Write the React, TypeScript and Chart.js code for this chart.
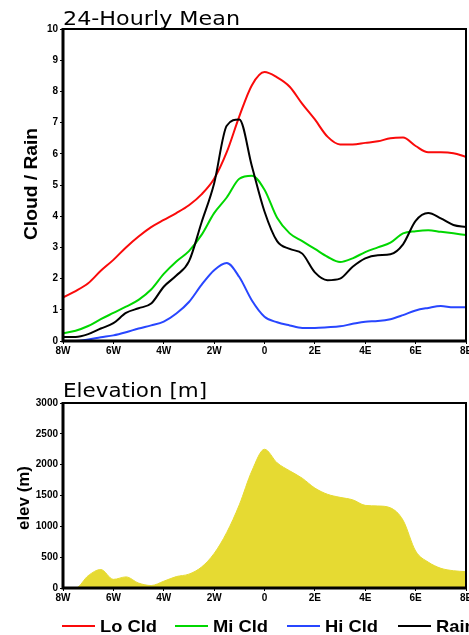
import React, { useEffect, useRef } from 'react';
import { Chart, registerables } from 'chart.js';
Chart.register(...registerables);

const xPositions = [-8, -7.5, -7, -6.5, -6, -5.5, -5, -4.5, -4, -3.5, -3, -2.5, -2, -1.5, -1, -0.5, 0, 0.5, 1, 1.5, 2, 2.5, 3, 3.5, 4, 4.5, 5, 5.5, 6, 6.5, 7, 7.5, 8];
const loCld = [1.4, 1.6, 1.85, 2.25, 2.6, 3.0, 3.35, 3.65, 3.88, 4.1, 4.35, 4.7, 5.2, 6.05, 7.2, 8.2, 8.62, 8.45, 8.15, 7.6, 7.1, 6.55, 6.3, 6.3, 6.35, 6.4, 6.5, 6.52, 6.25, 6.05, 6.05, 6.02, 5.9];
const miCld = [0.25, 0.33, 0.48, 0.7, 0.9, 1.1, 1.32, 1.65, 2.15, 2.55, 2.88, 3.4, 4.1, 4.6, 5.2, 5.3, 4.85, 3.95, 3.45, 3.2, 2.95, 2.7, 2.53, 2.65, 2.85, 3.0, 3.15, 3.45, 3.52, 3.55, 3.5, 3.45, 3.4];
const hiCld = [0.0, 0.0, 0.05, 0.12, 0.18, 0.28, 0.4, 0.5, 0.62, 0.88, 1.25, 1.8, 2.27, 2.5, 2.05, 1.3, 0.78, 0.6, 0.5, 0.42, 0.42, 0.44, 0.47, 0.55, 0.62, 0.64, 0.7, 0.83, 0.98, 1.06, 1.12, 1.08, 1.08];
const rain = [0.13, 0.13, 0.22, 0.4, 0.57, 0.9, 1.05, 1.2, 1.74, 2.1, 2.55, 3.8, 5.05, 6.9, 7.1, 5.6, 4.15, 3.2, 2.95, 2.8, 2.2, 1.95, 2.0, 2.38, 2.65, 2.75, 2.78, 3.1, 3.85, 4.1, 3.93, 3.72, 3.65];
const elevation = [0, 0, 200, 300, 140, 180, 80, 40, 110, 185, 225, 340, 560, 900, 1350, 1900, 2250, 2030, 1900, 1780, 1620, 1520, 1470, 1430, 1340, 1330, 1300, 1100, 600, 420, 320, 280, 265];

const xTickLabels = ['8W', '6W', '4W', '2W', '0', '2E', '4E', '6E', '8E'];
const seriesNames = ['Lo Cld', 'Mi Cld', 'Hi Cld', 'Rain'];
const seriesColors = ['rgb(250,10,10)', 'rgb(0,215,0)', 'rgb(40,70,255)', 'rgb(0,0,0)'];
const seriesValues = [loCld, miCld, hiCld, rain];
const topTitle = '24-Hourly Mean';
const topYTitle = 'Cloud / Rain';
const bottomTitle = 'Elevation [m]';
const bottomYTitle = 'elev (m)';
const elevColor = 'rgb(230,218,50)';

const TICK_FONT = { family: 'Liberation Sans', size: 10, weight: 'bold' as const };

function fitText(ctx: CanvasRenderingContext2D, text: string, x: number, y: number, width: number, font: string, rot = 0, align: CanvasTextAlign = 'left') {
  ctx.save();
  ctx.font = font;
  const w = ctx.measureText(text).width;
  ctx.translate(x, y);
  ctx.rotate(rot);
  ctx.scale(width / w, 1);
  ctx.textAlign = align;
  ctx.textBaseline = 'alphabetic';
  ctx.fillStyle = '#000';
  ctx.fillText(text, 0, 0);
  ctx.restore();
}

function drawFrame(chart: any) {
  const { ctx, chartArea: a } = chart;
  ctx.save();
  ctx.strokeStyle = '#000';
  ctx.lineWidth = 2;
  ctx.strokeRect(a.left, a.top, a.right - a.left, a.bottom - a.top);
  ctx.lineWidth = 3;
  ctx.beginPath();
  ctx.moveTo(a.left, a.top - 1);
  ctx.lineTo(a.left, a.bottom);
  ctx.lineTo(a.right + 1, a.bottom);
  ctx.stroke();
  ctx.restore();
}

function xScale(): any {
  return {
    type: 'linear',
    min: -8,
    max: 8,
    grid: { display: true, drawOnChartArea: false, drawTicks: true, tickLength: 3, color: '#000', lineWidth: 1 },
    border: { display: false },
    ticks: {
      stepSize: 2,
      padding: 1,
      color: '#000',
      font: TICK_FONT,
      maxRotation: 0,
      autoSkip: false,
      callback: (_v: any, i: number) => xTickLabels[i],
    },
  };
}

function yScale(max: number, step: number): any {
  return {
    min: 0,
    max,
    grid: { display: true, drawOnChartArea: false, drawTicks: true, tickLength: 3, color: '#000', lineWidth: 1 },
    border: { display: false },
    ticks: { stepSize: step, padding: 2, color: '#000', font: TICK_FONT, callback: (v: any) => String(v) },
    afterFit: (s: any) => { s.width = 63; s.paddingTop = 0; s.paddingBottom = 0; },
  };
}

export default function App() {
  const topRef = useRef<HTMLCanvasElement>(null);
  const botRef = useRef<HTMLCanvasElement>(null);

  useEffect(() => {
    document.body.style.margin = '0';
    const topChart = new Chart(topRef.current!, {
      type: 'line',
      data: {
        datasets: seriesValues.map((vals, k) => ({
          label: seriesNames[k],
          data: vals.map((v, i) => ({ x: xPositions[i], y: v })),
          borderColor: seriesColors[k],
          backgroundColor: seriesColors[k],
          borderWidth: 2,
          pointRadius: 0,
          tension: 0.35,
          cubicInterpolationMode: 'monotone' as const,
          fill: false,
          order: 4 - k,
        })),
      },
      options: {
        responsive: false,
        animation: false,
        layout: { padding: { top: 29, right: 3, left: 0, bottom: 0 } },
        plugins: { legend: { display: false }, tooltip: { enabled: false } },
        scales: {
          x: { ...xScale(), afterFit: (s: any) => { s.height = 19; s.paddingLeft = 0; s.paddingRight = 0; } },
          y: yScale(10, 1),
        },
      },
      plugins: [{
        id: 'topDeco',
        afterDraw: (chart: any) => {
          drawFrame(chart);
          const ctx = chart.ctx;
          fitText(ctx, topTitle, 63, 25, 177, '20px "DejaVu Sans"');
          fitText(ctx, topYTitle, 37, 184, 112, 'bold 18px "Liberation Sans"', -Math.PI / 2, 'center');
        },
      }],
    });

    const botChart = new Chart(botRef.current!, {
      type: 'line',
      data: {
        datasets: [{
          label: 'elev',
          data: elevation.map((v, i) => ({ x: xPositions[i], y: v })),
          borderColor: elevColor,
          backgroundColor: elevColor,
          borderWidth: 1,
          pointRadius: 0,
          tension: 0.3,
          cubicInterpolationMode: 'monotone' as const,
          fill: 'origin',
        }],
      },
      options: {
        responsive: false,
        animation: false,
        layout: { padding: { top: 43, right: 3, left: 0, bottom: 0 } },
        plugins: { legend: { display: false }, tooltip: { enabled: false } },
        scales: {
          x: { ...xScale(), afterFit: (s: any) => { s.height = 47; s.paddingLeft = 0; s.paddingRight = 0; } },
          y: yScale(3000, 500),
        },
      },
      plugins: [{
        id: 'botDeco',
        afterDraw: (chart: any) => {
          drawFrame(chart);
          const ctx = chart.ctx as CanvasRenderingContext2D;
          fitText(ctx, bottomTitle, 63, 37, 144, '20px "DejaVu Sans"');
          fitText(ctx, bottomYTitle, 29, 138, 64, 'bold 16px "Liberation Sans"', -Math.PI / 2, 'center');
          // legend
          const lineStarts = [62, 175, 287, 398];
          const ly = 266;
          ctx.save();
          ctx.font = 'bold 17px "Liberation Sans"';
          const s = 57 / ctx.measureText(seriesNames[0]).width;
          seriesNames.forEach((name, k) => {
            const x0 = lineStarts[k];
            ctx.strokeStyle = seriesColors[k];
            ctx.lineWidth = 2;
            ctx.beginPath();
            ctx.moveTo(x0, ly);
            ctx.lineTo(x0 + 33, ly);
            ctx.stroke();
            ctx.save();
            ctx.translate(x0 + 38, ly + 6);
            ctx.scale(s, 1);
            ctx.fillStyle = '#000';
            ctx.textAlign = 'left';
            ctx.textBaseline = 'alphabetic';
            ctx.fillText(name, 0, 0);
            ctx.restore();
          });
          ctx.restore();
        },
      }],
    });

    return () => { topChart.destroy(); botChart.destroy(); };
  }, []);

  return (
    <div style={{ position: 'relative', width: 469, height: 635, background: '#fff' }}>
      <canvas ref={topRef} width={469} height={360} style={{ position: 'absolute', left: 0, top: 0 }} />
      <canvas ref={botRef} width={469} height={275} style={{ position: 'absolute', left: 0, top: 360 }} />
    </div>
  );
}
